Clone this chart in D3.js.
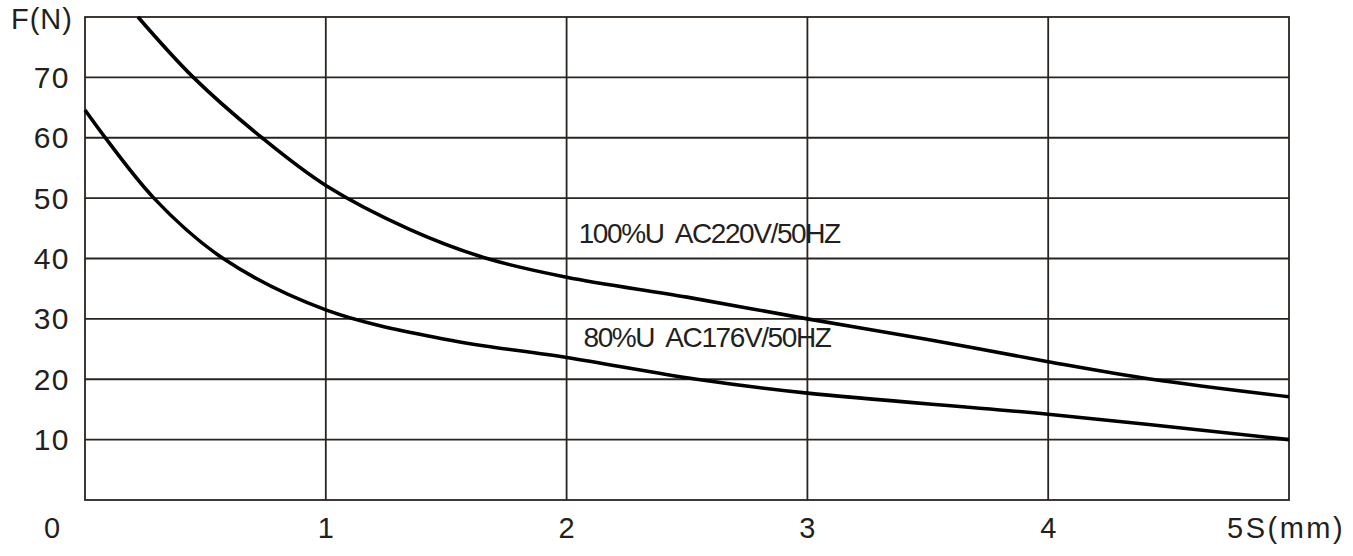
<!DOCTYPE html>
<html><head><meta charset="utf-8">
<script src="https://cdn.jsdelivr.net/npm/d3@7"></script>
<style>body{margin:0;background:#fff}svg{display:block}text{font-family:"Liberation Sans",Arial,sans-serif;fill:#231f20}</style>
</head><body><svg id="c" width="1353" height="556"></svg>
<script>
const xTicks = [1, 2, 3, 4];
const yTicks = [10, 20, 30, 40, 50, 60, 70];
const s100 = [0.22, 0.45, 0.735, 1.0, 1.35, 1.67, 2.0, 2.5, 3.0, 3.5, 4.0, 4.43, 5.0];
const f100 = [80, 70, 60, 52.1, 44.8, 40, 36.9, 33.6, 30, 26.6, 22.9, 20, 17.1];
const s80 = [0, 0.286, 0.574, 1.0, 1.5, 2.0, 2.54, 3.0, 4.0, 5.0];
const f80 = [64.6, 50, 40, 31.5, 26.6, 23.6, 20, 17.7, 14.2, 10];
const labels = ["100%U  AC220V/50HZ", "80%U  AC176V/50HZ"];
const labelPos = [[2.05, 42.6], [2.07, 25.3]];

const svg = d3.select("#c");
const x = d3.scaleLinear().domain([0, 5]).range([85, 1289]);
const y = d3.scaleLinear().domain([0, 80]).range([500, 17]);
const grid = "#2a2421";

const g = svg.append("g");
g.selectAll(".hg").data(yTicks).join("line")
  .attr("x1", x(0)).attr("x2", x(5)).attr("y1", d => y(d)).attr("y2", d => y(d))
  .attr("stroke", grid).attr("stroke-width", 1.8);
g.selectAll(".vg").data(xTicks).join("line")
  .attr("y1", y(0)).attr("y2", y(80)).attr("x1", d => x(d)).attr("x2", d => x(d))
  .attr("stroke", grid).attr("stroke-width", 1.8);
g.append("rect").attr("x", x(0)).attr("y", y(80)).attr("width", x(5) - x(0)).attr("height", y(0) - y(80))
  .attr("fill", "none").attr("stroke", grid).attr("stroke-width", 1.8);

svg.selectAll(".yl").data(yTicks).join("text")
  .attr("x", 70).attr("y", d => y(d) + 10.5)
  .attr("text-anchor", "end").attr("font-size", 30).attr("letter-spacing", 1.5)
  .text(d => d);
svg.append("text").attr("x", 11).attr("y", 29).attr("font-size", 29).attr("letter-spacing", 1).text("F(N)");
svg.selectAll(".xl").data(xTicks).join("text")
  .attr("x", d => x(d) + 1).attr("y", 538)
  .attr("text-anchor", "middle").attr("font-size", 29).attr("letter-spacing", 2)
  .text(d => d);
svg.append("text").attr("x", 53).attr("y", 538).attr("text-anchor", "middle").attr("font-size", 29).attr("letter-spacing", 2).text("0");
svg.append("text").attr("x", 1227).attr("y", 538).attr("font-size", 29).attr("letter-spacing", 2.5).text("5S(mm)");

const line = d3.line().x(d => x(d[0])).y(d => y(d[1])).curve(d3.curveCatmullRom.alpha(0.5));
const series = [d3.zip(s100, f100), d3.zip(s80, f80)];
svg.selectAll(".curve").data(series).join("path")
  .attr("d", line).attr("fill", "none").attr("stroke", "#000").attr("stroke-width", 3.6);

svg.selectAll(".ann").data(labels).join("text")
  .attr("x", (d, i) => x(labelPos[i][0])).attr("y", (d, i) => y(labelPos[i][1]))
  .attr("font-size", 28).attr("letter-spacing", -1.4)
  .style("white-space", "pre")
  .text(d => d);
</script></body></html>
